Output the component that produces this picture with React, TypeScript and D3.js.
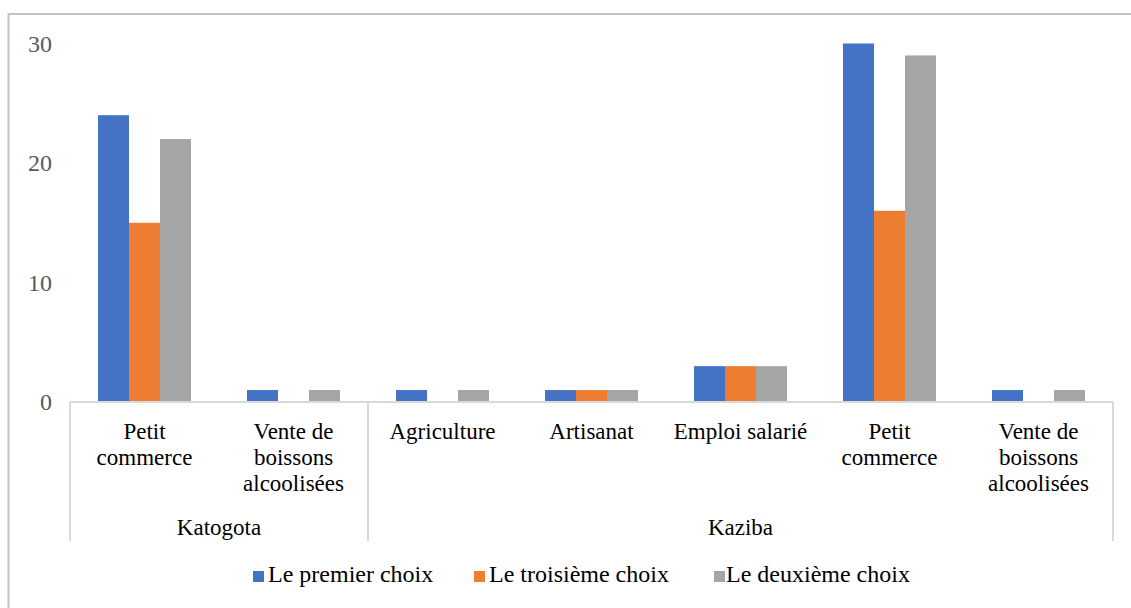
import React from "react";
import * as d3 from "d3";

// Categories grouped by location (two-level axis)
const groups = ["Katogota", "Kaziba"];
const categories = [
  { group: "Katogota", lines: ["Petit", "commerce"] },
  { group: "Katogota", lines: ["Vente de", "boissons", "alcoolisées"] },
  { group: "Kaziba", lines: ["Agriculture"] },
  { group: "Kaziba", lines: ["Artisanat"] },
  { group: "Kaziba", lines: ["Emploi salarié"] },
  { group: "Kaziba", lines: ["Petit", "commerce"] },
  { group: "Kaziba", lines: ["Vente de", "boissons", "alcoolisées"] },
];

const seriesNames = ["Le premier choix", "Le troisième choix", "Le deuxième choix"];
const premierChoix = [24, 1, 1, 1, 3, 30, 1];
const troisiemeChoix = [15, 0, 0, 1, 3, 16, 0];
const deuxiemeChoix = [22, 1, 1, 1, 3, 29, 1];
const yTicks = [0, 10, 20, 30];

const seriesValues = [premierChoix, troisiemeChoix, deuxiemeChoix];
const colors = ["#4472C4", "#ED7D31", "#A5A5A5"];

export default function App() {
  const W = 1131;
  const H = 608;
  const left = 70;
  const right = 1113;
  const y0 = 402;
  const yTop = 43.5;
  const font = "Liberation Serif";

  const x = d3
    .scaleBand<number>()
    .domain(categories.map((_, i) => i))
    .range([left, right])
    .paddingInner(0)
    .paddingOuter(0);
  const y = d3.scaleLinear().domain([0, 30]).range([y0, yTop]);

  const barW = 31;
  const inner = d3
    .scaleBand<number>()
    .domain(seriesNames.map((_, i) => i))
    .range([0, barW * seriesNames.length]);

  const sepBottom = 541;
  const groupBounds = groups.map((g) => {
    const idx = categories.map((c, i) => (c.group === g ? i : -1)).filter((i) => i >= 0);
    const x1 = x(idx[0])!;
    const x2 = x(idx[idx.length - 1])! + x.bandwidth();
    return { g, x1, x2 };
  });

  const legendItems = [
    { sq: 253, tx: 268 },
    { sq: 474, tx: 489 },
    { sq: 714, tx: 726 },
  ];

  return (
    <svg
      width={W}
      height={H}
      style={{ position: "absolute", left: 0, top: 0, background: "#fff" }}
    >
      <rect x={8.5} y={14} width={W + 10} height={H + 10} fill="#fff" stroke="#c4c4c4" strokeWidth={2} />

      {/* y tick labels */}
      {yTicks.map((t) => (
        <text
          key={t}
          x={52}
          y={y(t)}
          dy="0.35em"
          textAnchor="end"
          fontFamily={font}
          fontSize={24}
          fill="#595959"
        >
          {t}
        </text>
      ))}

      {/* bars */}
      {seriesValues.map((vals, s) =>
        vals.map((v, i) => {
          const cx = x(i)! + x.bandwidth() / 2;
          const bx = cx - (barW * seriesNames.length) / 2 + inner(s)!;
          return (
            <rect
              key={`${s}-${i}`}
              x={bx}
              y={y(v)}
              width={inner.bandwidth()}
              height={y0 - y(v)}
              fill={colors[s]}
            />
          );
        })
      )}

      {/* category axis */}
      <line x1={left} x2={right} y1={y0} y2={y0} stroke="#d9d9d9" strokeWidth={2} />
      {groupBounds.map((b) => (
        <line key={`s-${b.g}`} x1={b.x1} x2={b.x1} y1={y0} y2={sepBottom} stroke="#d9d9d9" strokeWidth={2} />
      ))}
      <line x1={right} x2={right} y1={y0} y2={sepBottom} stroke="#d9d9d9" strokeWidth={2} />

      {categories.map((c, i) => (
        <text
          key={`c-${i}`}
          x={x(i)! + x.bandwidth() / 2}
          y={439}
          textAnchor="middle"
          fontFamily={font}
          fontSize={23}
          fill="#000"
        >
          {c.lines.map((l, k) => (
            <tspan key={k} x={x(i)! + x.bandwidth() / 2} dy={k === 0 ? 0 : 26}>
              {l}
            </tspan>
          ))}
        </text>
      ))}

      {groupBounds.map((b) => (
        <text
          key={`g-${b.g}`}
          x={(b.x1 + b.x2) / 2}
          y={535}
          textAnchor="middle"
          fontFamily={font}
          fontSize={23}
          fill="#000"
        >
          {b.g}
        </text>
      ))}

      {/* legend */}
      {seriesNames.map((n, s) => (
        <g key={n}>
          <rect x={legendItems[s].sq} y={571} width={11} height={11} fill={colors[s]} />
          <text x={legendItems[s].tx} y={582} fontFamily={font} fontSize={24} fill="#000">
            {n}
          </text>
        </g>
      ))}
    </svg>
  );
}
